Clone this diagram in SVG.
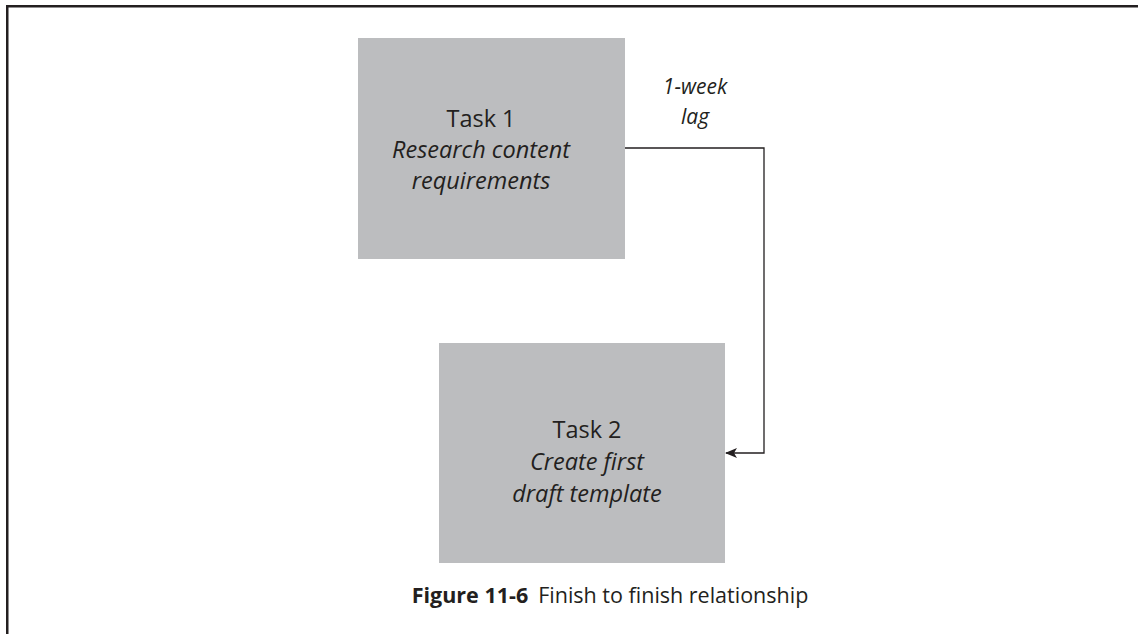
<svg xmlns="http://www.w3.org/2000/svg" width="1138" height="634" viewBox="0 0 1138 634">
  <style>
    .box { fill: #bcbdbf; }
    .txt { font-family: "Open Sans", "Noto Sans", sans-serif; font-size: 23.5px; fill: #231f20; text-anchor: middle; }
    .lbl { font-family: "Open Sans", "Noto Sans", sans-serif; font-size: 21px; fill: #231f20; text-anchor: middle; font-style: italic; }
    .it { font-style: italic; }
    .frame { fill: none; stroke: #231f20; stroke-width: 2.5; }
    .link { fill: none; stroke: #231f20; stroke-width: 1.3; }
    .cap { font-family: "Open Sans", "Noto Sans", sans-serif; font-size: 21.5px; fill: #231f20; }
  </style>
  <defs>
    <marker id="arrow" viewBox="0 0 12 10" refX="11" refY="5" markerWidth="12" markerHeight="10" markerUnits="userSpaceOnUse" orient="auto">
      <path d="M0,0 L12,5 L0,10 L3,5 Z" fill="#231f20"/>
    </marker>
  </defs>
  <rect width="1138" height="634" fill="#ffffff"/>
  <!-- page frame: top rule and left rule -->
  <path class="frame" d="M7.25,634 V6.25 H1138"/>

  <g id="task1">
    <rect class="box" x="358" y="38" width="267" height="221"/>
    <text class="txt" x="481" y="127">Task 1</text>
    <text class="txt it" x="481" y="158">Research content</text>
    <text class="txt it" x="481" y="189">requirements</text>
  </g>

  <g id="task2">
    <rect class="box" x="439" y="343" width="286" height="220"/>
    <text class="txt" x="587" y="438">Task 2</text>
    <text class="txt it" x="587" y="470">Create first</text>
    <text class="txt it" x="587" y="502">draft template</text>
  </g>

  <g id="connectors">
    <path class="link" d="M625,148 H764 V453 H726" marker-end="url(#arrow)"/>
    <text class="lbl" x="695" y="94">1-week</text>
    <text class="lbl" x="695" y="124">lag</text>
  </g>

  <g id="caption">
    <text class="cap" x="610" y="603" text-anchor="middle"><tspan font-weight="bold">Figure 11-6</tspan><tspan dx="10">Finish to finish relationship</tspan></text>
  </g>
</svg>
